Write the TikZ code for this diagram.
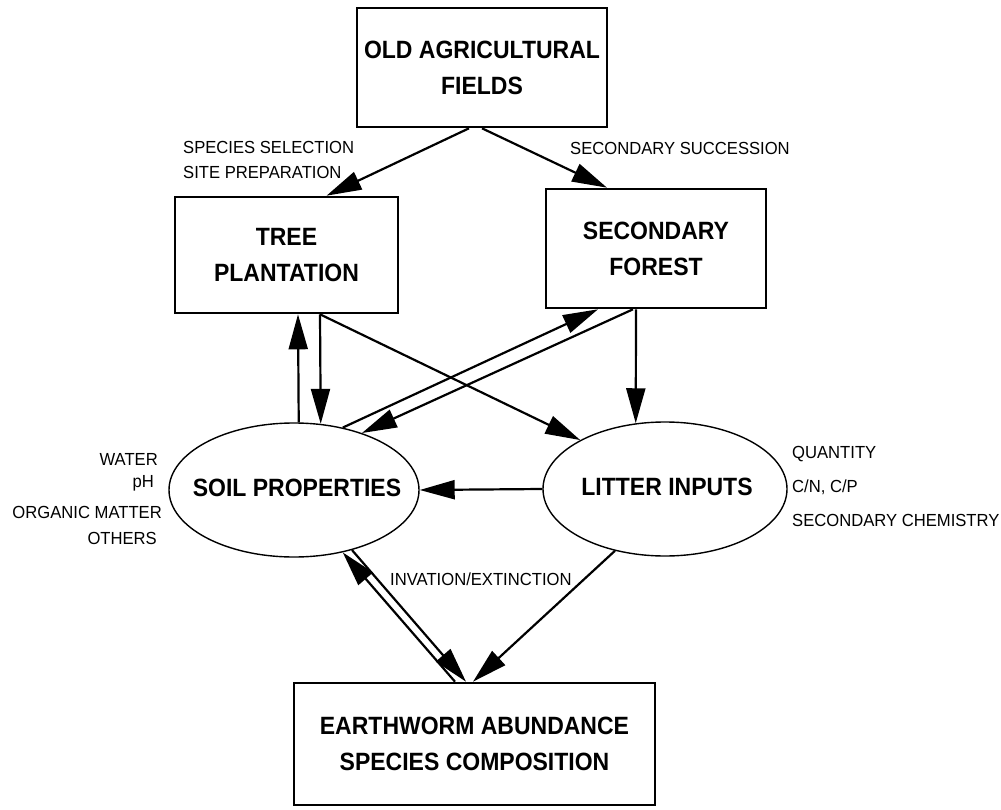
\documentclass[tikz,border=0pt]{standalone}
\usepackage{fontspec}
\setmainfont{Liberation Sans}
\newfontfamily\condbold[FakeStretch=0.92]{Liberation Sans Bold}
\newfontfamily\condreg[FakeStretch=0.95]{Liberation Sans}
\usetikzlibrary{arrows.meta,shapes.geometric}
\begin{document}
\begin{tikzpicture}[x=1pt,y=-1pt,
  box/.style={draw,line width=2.6pt,rectangle,align=center,inner sep=0pt,
    font=\fontsize{25}{36}\condbold},
  oval/.style={draw,line width=1.4pt,ellipse,inner sep=0pt},
  big/.style={inner sep=0pt,font=\fontsize{25}{28}\condbold},
  small/.style={inner sep=0pt,font=\fontsize{17.5}{20}\condreg},
  arr/.style={line width=2.2pt,-{Triangle[length=35pt,width=19pt]}}]
\useasboundingbox (0,0) rectangle (1001,810);
% boxes
\node[box,minimum width=250pt,minimum height=119pt] (old) at (482,67.5) {OLD AGRICULTURAL\\FIELDS};
\node[box,minimum width=223pt,minimum height=116pt] (tree) at (286.5,255) {TREE\\PLANTATION};
\node[box,minimum width=220pt,minimum height=119pt] (sf) at (656,248.5) {SECONDARY\\FOREST};
\node[box,minimum width=361pt,minimum height=122pt] (ew) at (474.5,744) {EARTHWORM ABUNDANCE\\SPECIES COMPOSITION};
% ellipses
\node[oval,minimum width=250pt,minimum height=134pt] (soil) at (294,490) {};
\node[big] (soiltxt) at (297,488) {SOIL PROPERTIES};
\node[oval,minimum width=244pt,minimum height=134pt] (lit) at (665,489) {};
\node[big] (littxt) at (667,487) {LITTER INPUTS};
% small labels
\node[small,anchor=west] (l1) at (183,147) {SPECIES SELECTION};
\node[small,anchor=west] (l2) at (183,172) {SITE PREPARATION};
\node[small,anchor=west] (l3) at (570,148) {SECONDARY SUCCESSION};
\node[small,anchor=east] (w1) at (158,459) {WATER};
\node[small,anchor=east] (w2) at (154,483) {pH};
\node[small,anchor=east] (w3) at (162,512) {ORGANIC MATTER};
\node[small,anchor=east] (w4) at (157,538) {OTHERS};
\node[small,anchor=west] (q1) at (792,454) {QUANTITY};
\node[small,anchor=west] (q2) at (792,487) {C/N, C/P};
\node[small,anchor=west] (q3) at (792,520) {SECONDARY CHEMISTRY};
\node[small,anchor=west] (inv) at (390,579) {INVATION/EXTINCTION};
% arrows
\draw[arr] ([xshift=-13pt]old.south) -- ([xshift=40pt]tree.north);
\draw[arr] (old.south) -- ([xshift=-49pt]sf.north);
\draw[arr] ([xshift=33.5pt]tree.south) -- (soil.68.4);
\draw[arr] (soil.86.6) -- ([xshift=11.5pt]tree.south);
\draw[arr] ([xshift=33.5pt]tree.south) -- (lit.150);
\draw[arr] (soil.52) -- ([xshift=-58pt]sf.south);
\draw[arr] ([xshift=-23pt]sf.south) -- (soil.40.8);
\draw[arr] ([xshift=-20pt]sf.south) -- (lit.114);
\draw[arr] (lit.west) -- (soil.east);
\draw[arr] ([xshift=-19.5pt]ew.north) -- (soil.308);
\draw[arr] (soil.314.5) -- ([xshift=-8.5pt]ew.north);
\draw[arr] (lit.231) -- ([xshift=-1.5pt]ew.north);
\end{tikzpicture}
\end{document}
